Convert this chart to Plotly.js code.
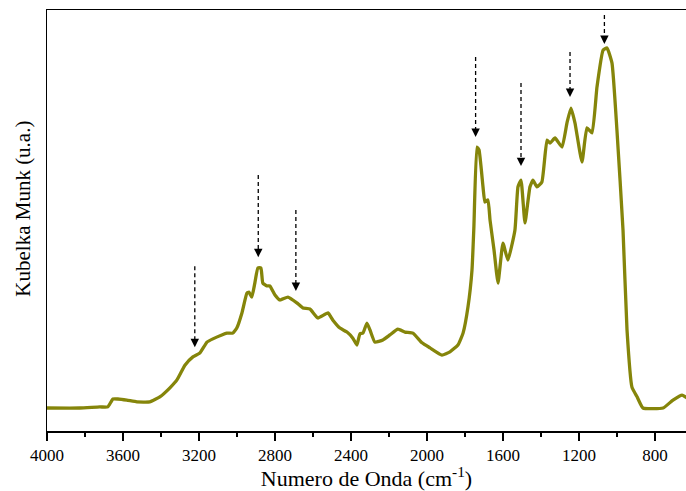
<!DOCTYPE html>
<html>
<head>
<meta charset="utf-8">
<script src="https://cdn.plot.ly/plotly-3.0.1.min.js"></script>
<style>html,body{margin:0;padding:0;background:#fff;}#chart{width:686px;height:491px;}</style>
</head>
<body>
<div id="chart"></div>
<script>
// Wavenumber (cm-1) and Kubelka-Munk intensity (arbitrary units)
const wavenumber = [4000,3827,3722,3680,3653,3627,3580,3527,3459,3406,3353,3316,3274,3232,3195,3158,3127,3080,3053,3022,
  3001,2974,2948,2937,2922,2906,2890,2874,2864,2843,2827,2800,2774,2732,2685,2653,2616,2574,2521,2495,
  2458,2421,2390,2369,2353,2337,2316,2300,2274,2232,2195,2153,2116,2074,2026,1984,1921,1879,1837,1810,
  1784,1763,1753,1737,1726,1705,1695,1679,1668,1647,1626,1600,1574,1537,1521,1505,1484,1458,1442,1421,
  1395,1368,1352,1326,1289,1263,1242,1221,1184,1158,1131,1105,1073,1052,1026,1000,968,947,921,894,
  863,757,705,657,631];
const kubelkaMunk = [0.0,0.0,0.003,0.003,0.025,0.025,0.022,0.017,0.017,0.031,0.056,0.078,0.119,0.142,0.153,0.183,0.192,0.203,0.208,0.208,
  0.222,0.264,0.319,0.322,0.308,0.347,0.389,0.389,0.347,0.339,0.339,0.314,0.300,0.308,0.292,0.278,0.275,0.250,0.264,0.244,
  0.222,0.211,0.194,0.175,0.206,0.208,0.236,0.217,0.183,0.189,0.203,0.219,0.211,0.208,0.181,0.167,0.147,0.156,0.175,0.208,
  0.281,0.383,0.503,0.725,0.717,0.614,0.572,0.578,0.522,0.439,0.347,0.458,0.411,0.494,0.614,0.633,0.514,0.614,0.633,0.614,
  0.628,0.744,0.736,0.750,0.725,0.792,0.833,0.792,0.683,0.778,0.764,0.892,0.994,1.0,0.958,0.772,0.494,0.217,0.058,0.031,
  0.0,0.0,0.022,0.036,0.028];

// Marked bands (dashed arrows): position, arrow start and arrow tip
const arrowWavenumber = [3222, 2888, 2690, 1744, 1505, 1247, 1066];
const arrowTop = [0.394, 0.647, 0.550, 0.975, 0.903, 0.989, 1.092];
const arrowTip = [0.169, 0.419, 0.325, 0.753, 0.672, 0.864, 1.011];

const tickValues = [4000,3600,3200,2800,2400,2000,1600,1200,800];

const serif = 'Liberation Serif, Times New Roman, serif';
const lineColor = '#85850a';
const shapes = [];
const annotations = [];
arrowWavenumber.forEach((w, i) => {
  shapes.push({type:'line', xref:'x', yref:'y', x0:w, x1:w, y0:arrowTop[i], y1:arrowTip[i] + 0.02,
    line:{color:'#000', width:1.3, dash:'4px,3px'}});
  annotations.push({x:w, y:arrowTip[i], xref:'x', yref:'y', showarrow:true, text:' ',
    ax:0, ay:-9, arrowhead:2, arrowsize:1.3, arrowwidth:1.3, arrowcolor:'#000', standoff:0,
    font:{size:1}});
});
annotations.push({text:'Kubelka Munk (u.a.)', xref:'paper', yref:'paper', x:-0.0376, y:0.528,
  xanchor:'center', yanchor:'middle', textangle:-90, showarrow:false,
  font:{family:serif, size:21, color:'#000'}});

const trace = {x: wavenumber, y: kubelkaMunk, type:'scatter', mode:'lines',
  line:{color:lineColor, width:3.3, shape:'spline', smoothing:0.4}, hoverinfo:'skip'};

const layout = {
  width:686, height:491,
  margin:{l:47, r:0, t:10, b:60},
  paper_bgcolor:'#fff', plot_bgcolor:'#fff',
  showlegend:false,
  font:{family:serif, color:'#000'},
  xaxis:{range:[4000, 636.5], tickvals:tickValues, ticktext:tickValues.map(String),
    ticks:'outside', ticklen:8, tickwidth:1.3, tickcolor:'#000',
    minor:{dtick:200, ticks:'outside', ticklen:4, tickwidth:1.3, tickcolor:'#000', showgrid:false},
    showline:true, linecolor:'#000', linewidth:1.5, mirror:true, showgrid:false, zeroline:false,
    tickfont:{size:17, family:serif},
    title:{text:'Numero de Onda (cm<sup>-1</sup>)', standoff:4, font:{size:22, family:serif}}},
  yaxis:{range:[-0.0639, 1.1056], showticklabels:false, ticks:'', showline:true, linecolor:'#000', linewidth:1.5,
    showgrid:false, zeroline:false},
  shapes: shapes,
  annotations: annotations
};
Plotly.newPlot('chart', [trace], layout, {displayModeBar:false, staticPlot:true});
</script>
</body>
</html>
